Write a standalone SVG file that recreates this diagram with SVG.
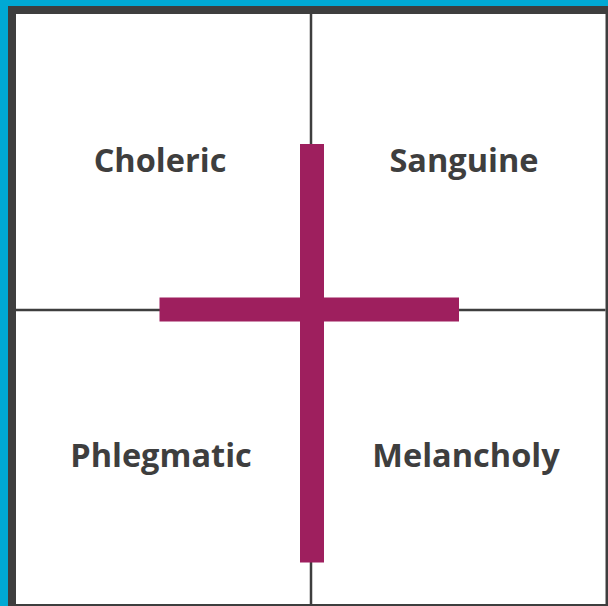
<svg xmlns="http://www.w3.org/2000/svg" width="608" height="606" viewBox="0 0 608 606">
<style>
.lbl{font-family:"Open Sans","Liberation Sans",sans-serif;font-weight:bold;font-size:32.5px;fill:#3e3e3e;text-anchor:middle}
.div{stroke:#3e3e3e;stroke-width:2.5;fill:none}
.bar{fill:#9e1f5e}
</style>
<rect x="0" y="0" width="608" height="606" fill="#00a9d4"/>
<rect x="8" y="6" width="600" height="600" fill="#3e3e3e"/>
<rect x="16" y="14" width="589.5" height="590" fill="#ffffff"/>
<g id="dividers">
<line class="div" x1="311" y1="14" x2="311" y2="604"/>
<line class="div" x1="16" y1="310" x2="605.5" y2="310"/>
</g>
<g id="cross">
<path class="bar" d="M300 144H324V297.5H459V321.5H324V562.5H300V321.5H159.5V297.5H300Z"/>
</g>
<g id="choleric"><text class="lbl" x="160" y="172">Choleric</text></g>
<g id="sanguine"><text class="lbl" x="464" y="172">Sanguine</text></g>
<g id="phlegmatic"><text class="lbl" x="161" y="467">Phlegmatic</text></g>
<g id="melancholy"><text class="lbl" x="466" y="467">Melancholy</text></g>
</svg>
